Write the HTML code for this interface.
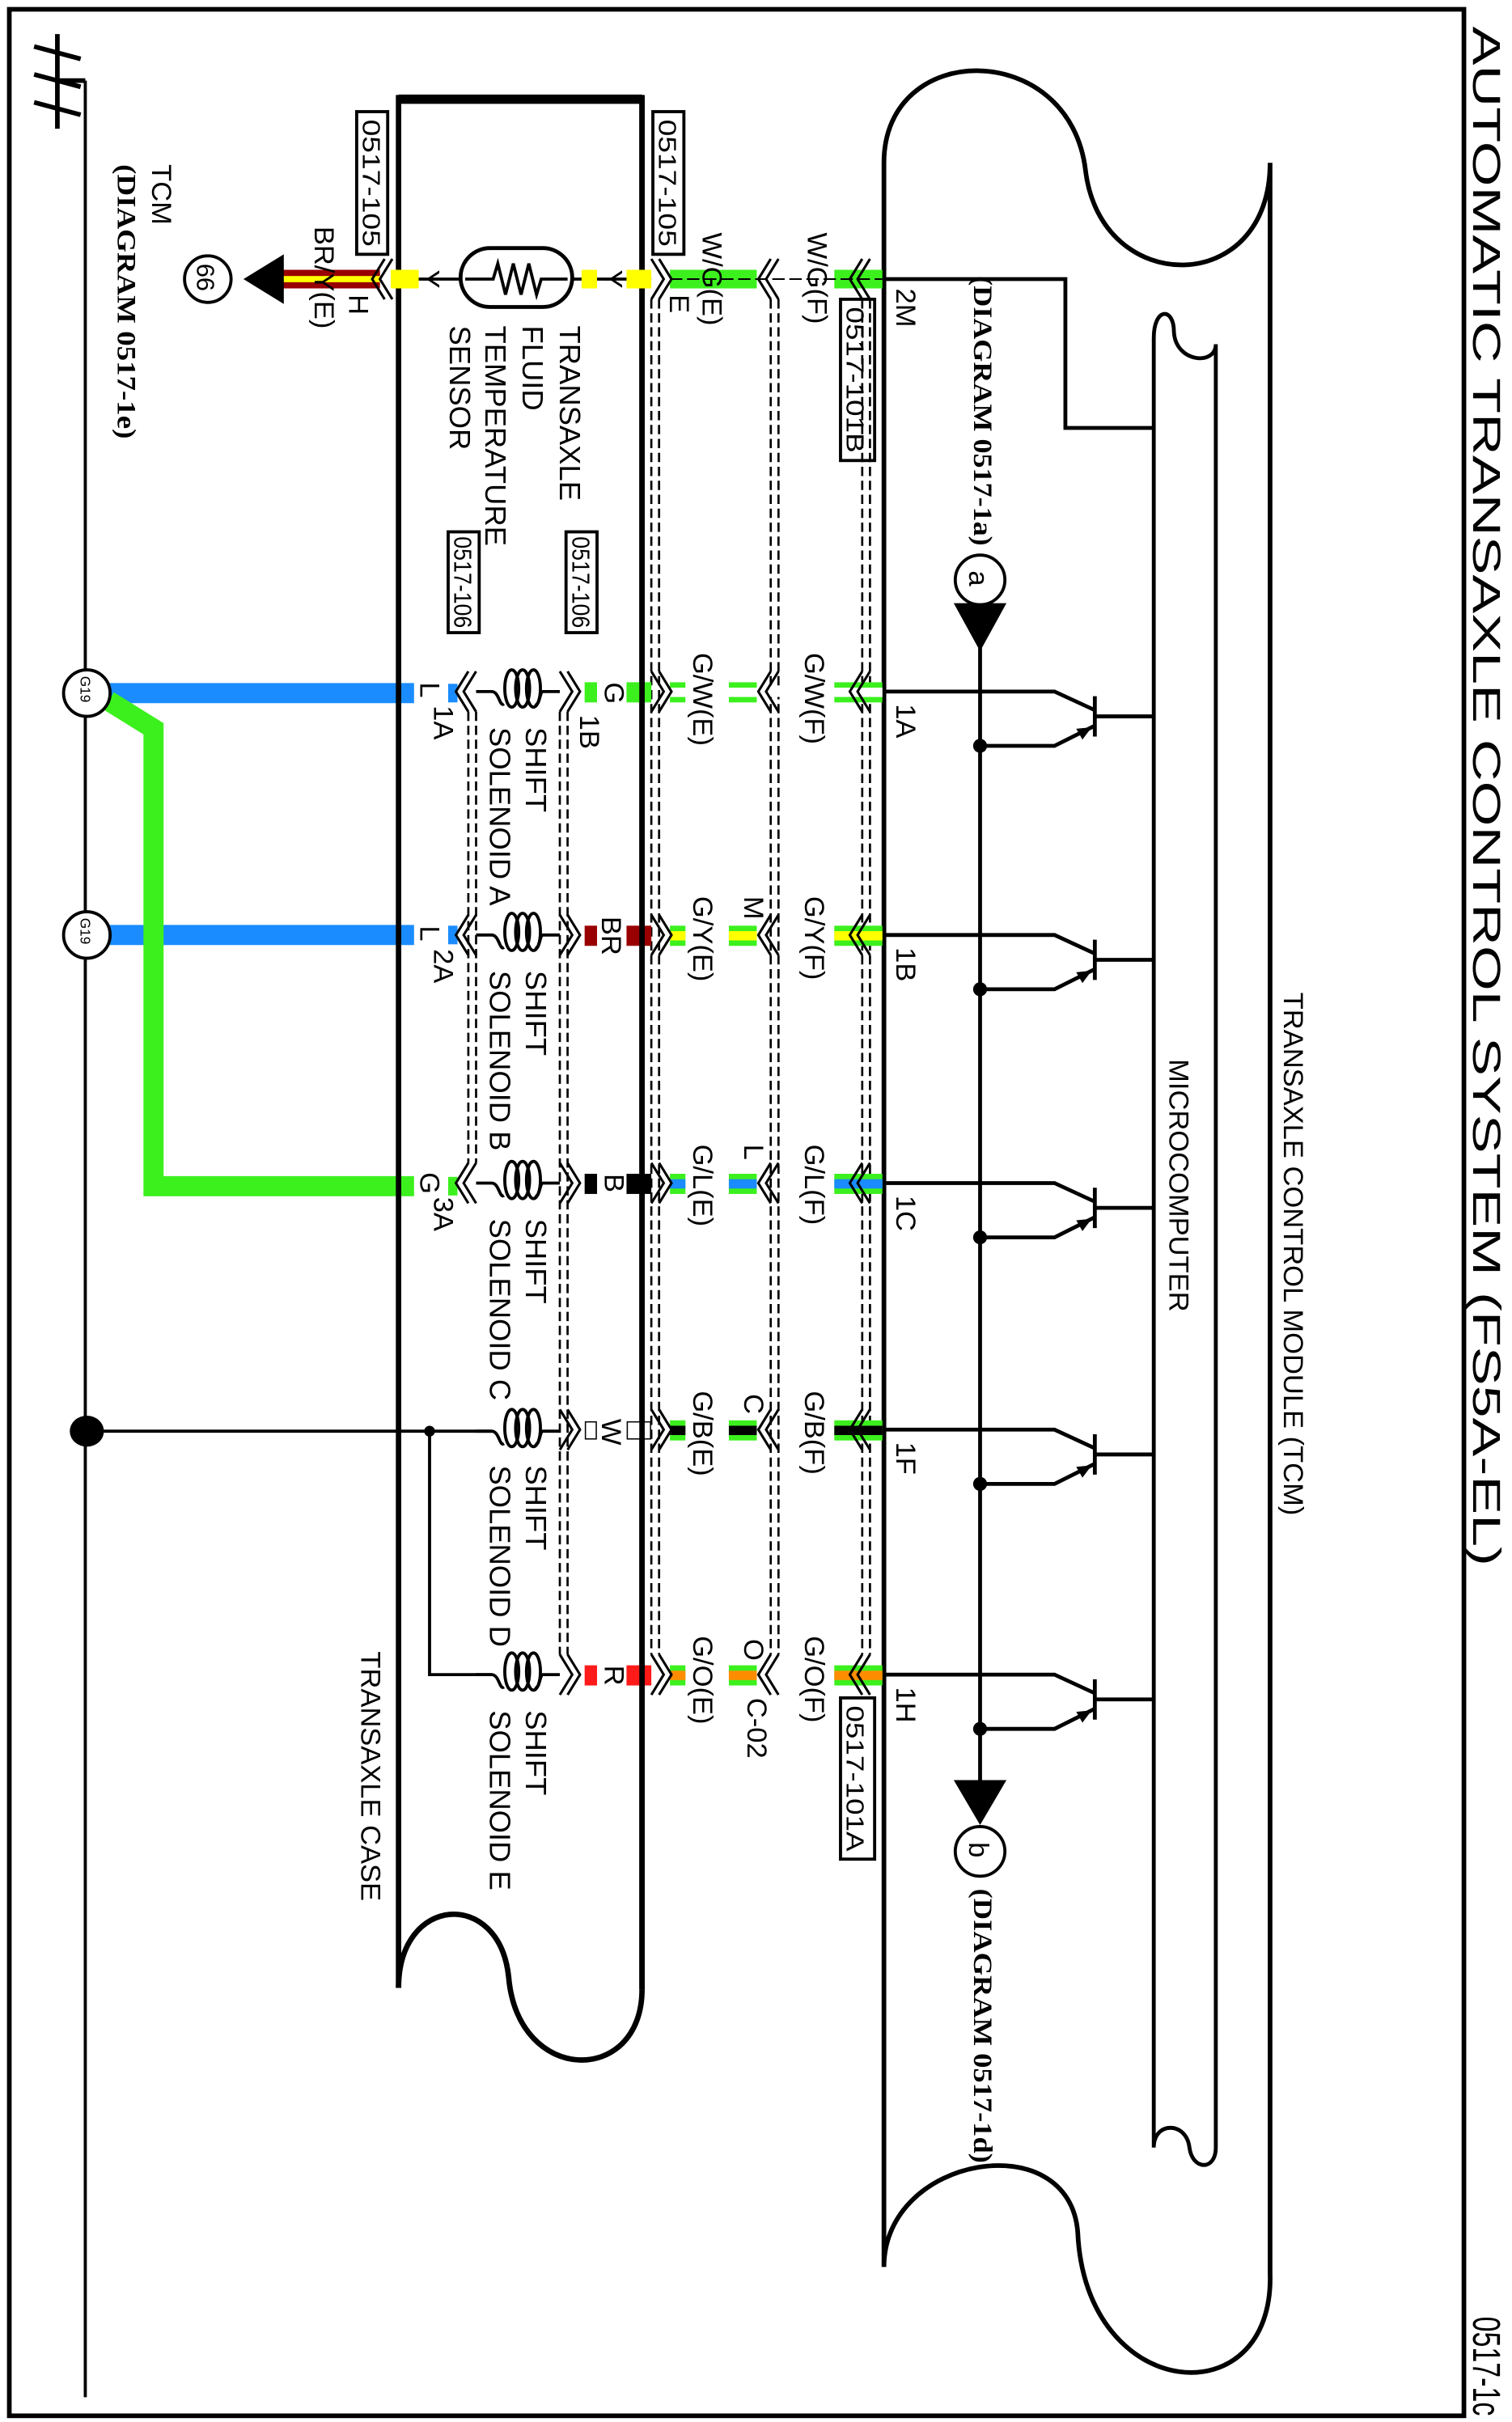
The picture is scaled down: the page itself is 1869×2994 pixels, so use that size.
<!DOCTYPE html>
<html><head><meta charset="utf-8"><style>html,body{margin:0;padding:0;background:#fff}svg{display:block}text{font-family:"Liberation Sans",sans-serif;fill:#000}.s{font-family:"Liberation Serif",serif;font-weight:bold}</style></head>
<body>
<svg width="1869" height="2994" viewBox="0 0 975 1562" preserveAspectRatio="none" xmlns="http://www.w3.org/2000/svg">
<rect x="6" y="6" width="938" height="1552" fill="none" stroke="#000" stroke-width="3"/>
<line x1="55" y1="52" x2="55" y2="1546" stroke="#000" stroke-width="2"/>
<path d="M37,22 V83 M37,52 H55 M22,30 L52,38 M22,48 L52,56 M22,66 L52,74" stroke="#000" stroke-width="3" fill="none"/>
<line x1="70" y1="447" x2="267" y2="447" stroke="#1a8cff" stroke-width="13"/>
<line x1="70" y1="603" x2="267" y2="603" stroke="#1a8cff" stroke-width="13"/>
<path d="M70,452 L99,470 V765 H267" stroke="#3cf01e" stroke-width="13" fill="none"/>
<circle cx="56" cy="447" r="15" fill="#fff" stroke="#000" stroke-width="2"/>
<circle cx="56" cy="603" r="15" fill="#fff" stroke="#000" stroke-width="2"/>
<text transform="translate(52,436) rotate(90)" font-size="9">G19</text>
<text transform="translate(52,592) rotate(90)" font-size="9">G19</text>
<ellipse cx="56" cy="923" rx="11" ry="10"/>
<path d="M56,923 H317 M277,923 V1080 H317" stroke="#000" stroke-width="2" fill="none"/>
<circle cx="277" cy="923" r="3.5"/>
<path d="M257,1282 V63 H414 V1283" stroke="#000" stroke-width="3.5" fill="none"/>
<line x1="257" y1="64" x2="414" y2="64" stroke="#000" stroke-width="6"/>
<path d="M257,1282 C257,1222 322,1218 328,1275 C334,1345 414,1345 414,1283" stroke="#000" stroke-width="3.5" fill="none"/>
<path d="M570,1462 V105 C570,25 690,25 700,110 C710,192 819,192 819,105 V1466 C822,1560 700,1550 695,1440 C690,1370 570,1390 570,1462" stroke="#000" stroke-width="3" fill="none"/>
<path d="M744,1385 V218 C744,198 757,198 757,214 C758,234 784,236 784,222 V1385 C784,1400 769,1400 767,1385 C765,1368 744,1368 744,1385" stroke="#000" stroke-width="2.5" fill="none"/>
<path d="M570,180 H687 V276 H744" stroke="#000" stroke-width="2.5" fill="none"/>
<line x1="632" y1="400" x2="632" y2="1160" stroke="#000" stroke-width="2.5"/>
<polygon points="615,389 649,389 632,420"/>
<circle cx="632" cy="374" r="16" fill="#fff" stroke="#000" stroke-width="2"/>
<text transform="translate(625,368) rotate(90)" font-size="18">a</text>
<polygon points="615,1148 649,1148 632,1177"/>
<circle cx="632" cy="1194" r="16" fill="#fff" stroke="#000" stroke-width="2"/>
<text transform="translate(625,1188) rotate(90)" font-size="18">b</text>
<g stroke="#000" stroke-width="2.5" fill="none">
<path d="M570,446 H680 L706,458 M706,449 V475 M706,462 H744 M706,468 L680,481 H632"/>
<path d="M570,603 H680 L706,615 M706,606 V632 M706,619 H744 M706,625 L680,638 H632"/>
<path d="M570,763 H680 L706,775 M706,766 V792 M706,779 H744 M706,785 L680,798 H632"/>
<path d="M570,922 H680 L706,934 M706,925 V951 M706,938 H744 M706,944 L680,957 H632"/>
<path d="M570,1080 H680 L706,1092 M706,1083 V1109 M706,1096 H744 M706,1102 L680,1115 H632"/>
</g>
<g>
<polygon points="704,469 694,470 698,477"/><circle cx="632" cy="481" r="4.5"/>
<polygon points="704,626 694,627 698,634"/><circle cx="632" cy="638" r="4.5"/>
<polygon points="704,786 694,787 698,794"/><circle cx="632" cy="798" r="4.5"/>
<polygon points="704,945 694,946 698,953"/><circle cx="632" cy="957" r="4.5"/>
<polygon points="704,1103 694,1104 698,1111"/><circle cx="632" cy="1115" r="4.5"/>
</g>
<g stroke="#000" stroke-width="1.4" stroke-dasharray="6,3" fill="none">
<path d="M556,193 V1067 M561,193 V1067"/>
<path d="M497,193 V1067 M502,193 V1067"/>
<path d="M420,193 V1067 M425,193 V1067"/>
<path d="M361,459 V1067 M366,459 V1067"/>
<path d="M302,459 V750 M307,459 V750"/>
</g>
<g>
<rect x="432" y="174" width="56" height="12" fill="#3cf01e"/><rect x="538" y="174" width="31" height="12" fill="#3cf01e"/>
<line x1="432" y1="180" x2="569" y2="180" stroke="#000" stroke-width="1" stroke-dasharray="8,3"/>
<rect x="181" y="174" width="64" height="12" fill="#990000"/><rect x="181" y="178" width="64" height="4" fill="#ffff00"/>
<rect x="432" y="440" width="10" height="13" fill="#3cf01e"/><rect x="470" y="440" width="18" height="13" fill="#3cf01e"/><rect x="538" y="440" width="31" height="13" fill="#3cf01e"/>
<rect x="432" y="443.5" width="137" height="6" fill="#fff"/>
<rect x="432" y="597" width="10" height="13" fill="#3cf01e"/><rect x="470" y="597" width="18" height="13" fill="#3cf01e"/><rect x="538" y="597" width="31" height="13" fill="#3cf01e"/>
<rect x="432" y="600.5" width="10" height="6" fill="#ffff00"/><rect x="470" y="600.5" width="18" height="6" fill="#ffff00"/><rect x="538" y="600.5" width="31" height="6" fill="#ffff00"/>
<rect x="432" y="757" width="10" height="13" fill="#3cf01e"/><rect x="470" y="757" width="18" height="13" fill="#3cf01e"/><rect x="538" y="757" width="31" height="13" fill="#3cf01e"/>
<rect x="432" y="760.5" width="10" height="6" fill="#1a8cff"/><rect x="470" y="760.5" width="18" height="6" fill="#1a8cff"/><rect x="538" y="760.5" width="31" height="6" fill="#1a8cff"/>
<rect x="432" y="916" width="10" height="13" fill="#3cf01e"/><rect x="470" y="916" width="18" height="13" fill="#3cf01e"/><rect x="538" y="916" width="31" height="13" fill="#3cf01e"/>
<rect x="432" y="919.5" width="10" height="6" fill="#000"/><rect x="470" y="919.5" width="18" height="6" fill="#000"/><rect x="538" y="919.5" width="31" height="6" fill="#000"/>
<rect x="432" y="1074" width="10" height="13" fill="#3cf01e"/><rect x="470" y="1074" width="18" height="13" fill="#3cf01e"/><rect x="538" y="1074" width="31" height="13" fill="#3cf01e"/>
<rect x="432" y="1077.5" width="10" height="6" fill="#ff8c00"/><rect x="470" y="1077.5" width="18" height="6" fill="#ff8c00"/><rect x="538" y="1077.5" width="31" height="6" fill="#ff8c00"/>
<rect x="377" y="440" width="8" height="13" fill="#3cf01e"/><rect x="404" y="440" width="16" height="13" fill="#3cf01e"/>
<rect x="377" y="597" width="8" height="13" fill="#990000"/><rect x="404" y="597" width="16" height="13" fill="#990000"/>
<rect x="377" y="757" width="8" height="13" fill="#000"/><rect x="404" y="757" width="16" height="13" fill="#000"/>
<rect x="377.5" y="917" width="7" height="11" fill="#fff" stroke="#000" stroke-width="0.8"/><rect x="404.5" y="917" width="15" height="11" fill="#fff" stroke="#000" stroke-width="0.8"/>
<rect x="377" y="1074" width="8" height="13" fill="#ff1a1a"/><rect x="404" y="1074" width="16" height="13" fill="#ff1a1a"/>
<rect x="289" y="441" width="6" height="12" fill="#1a8cff"/>
<rect x="289" y="597" width="6" height="12" fill="#1a8cff"/>
<rect x="289" y="759" width="6" height="12" fill="#3cf01e"/>
</g>
<line x1="414" y1="63" x2="414" y2="1283" stroke="#000" stroke-width="3.5"/>
<g stroke="#000" stroke-width="1.6" fill="none">
<path id="cl" d="M556,-13 L548,0 L556,13 M561,-13 L553,0 L561,13" transform="translate(0,180)"/>
<use href="#cl" y="266"/><use href="#cl" y="423"/><use href="#cl" y="583"/><use href="#cl" y="742"/><use href="#cl" y="900"/>
<path id="cm" d="M497,-13 L489,0 L497,13 M502,-13 L494,0 L502,13" transform="translate(0,180)"/>
<use href="#cm" y="266"/><use href="#cm" y="423"/><use href="#cm" y="583"/><use href="#cm" y="742"/><use href="#cm" y="900"/>
<path id="ce" d="M420,-13 L428,0 L420,13 M425,-13 L433,0 L425,13" transform="translate(0,180)"/>
<use href="#ce" y="266"/><use href="#ce" y="423"/><use href="#ce" y="583"/><use href="#ce" y="742"/><use href="#ce" y="900"/>
<path id="cr" d="M361,-13 L369,0 L361,13 M366,-13 L374,0 L366,13" transform="translate(0,446)"/>
<use href="#cr" y="157"/><use href="#cr" y="317"/><use href="#cr" y="476"/><use href="#cr" y="634"/>
<path id="cL" d="M302,-13 L294,0 L302,13 M307,-13 L299,0 L307,13" transform="translate(0,446)"/>
<use href="#cL" y="157"/><use href="#cL" y="317"/>
<path d="M248,167 L240,180 L248,193 M253,167 L245,180 L253,193"/>
</g>
<g stroke="#000" stroke-width="2" fill="none">
<path id="sol" d="M307,0 H317 C322,0 322,10 325,8 M350,0 H361 M345,8 C348,10 348,0 350,0" transform="translate(0,446)"/>
<g id="loops" transform="translate(0,446)"><ellipse cx="330" cy="-2" rx="4.5" ry="12"/><ellipse cx="337" cy="-2" rx="4.5" ry="12"/><ellipse cx="344" cy="-2" rx="4.5" ry="12"/></g>
<use href="#sol" y="157"/><use href="#loops" y="157"/>
<use href="#sol" y="317"/><use href="#loops" y="317"/>
<use href="#sol" y="477"/><use href="#loops" y="477"/>
<use href="#sol" y="634"/><use href="#loops" y="634"/>
</g>
<rect x="297" y="160" width="72" height="38" rx="19" fill="#fff" stroke="#000" stroke-width="2.5"/>
<path d="M253,180 H297 M369,180 H420 M300,180 H318 L321,170 L326,190 L331,170 L336,190 L341,170 L346,190 L349,180 H366" stroke="#000" stroke-width="2" fill="none"/>
<rect x="252" y="174" width="18" height="12" fill="#ffff00"/><rect x="375" y="174" width="10" height="12" fill="#ffff00"/><rect x="404" y="174" width="16" height="12" fill="#ffff00"/>
<polygon points="157,180 183,164 183,196"/>
<circle cx="134" cy="180" r="15" fill="#fff" stroke="#000" stroke-width="2"/>
<text transform="translate(127,170) rotate(90)" font-size="16">66</text>
<g fill="none" stroke="#000" stroke-width="2">
<rect x="230" y="72" width="20" height="92"/><rect x="421" y="72" width="20" height="92"/>
<rect x="289" y="343" width="20" height="65"/><rect x="365" y="343" width="20" height="65"/>
<rect x="542" y="193" width="22" height="104"/><rect x="542" y="1095" width="22" height="104"/>
</g>
<g font-size="16">
<text transform="translate(234,77) rotate(90)" textLength="82" lengthAdjust="spacingAndGlyphs">0517-105</text>
<text transform="translate(425,77) rotate(90)" textLength="82" lengthAdjust="spacingAndGlyphs">0517-105</text>
<text transform="translate(293,346) rotate(90)" textLength="59" lengthAdjust="spacingAndGlyphs">0517-106</text>
<text transform="translate(369,346) rotate(90)" textLength="59" lengthAdjust="spacingAndGlyphs">0517-106</text>
<text transform="translate(546,198) rotate(90)" textLength="94" lengthAdjust="spacingAndGlyphs">0517-101B</text>
<text transform="translate(546,1100) rotate(90)" textLength="94" lengthAdjust="spacingAndGlyphs">0517-101A</text>
</g>
<text transform="translate(950,17) rotate(90)" font-size="25" textLength="993" lengthAdjust="spacingAndGlyphs">AUTOMATIC TRANSAXLE CONTROL SYSTEM (FS5A-EL)</text>
<text transform="translate(950,1494) rotate(90)" font-size="25" textLength="64" lengthAdjust="spacingAndGlyphs">0517-1c</text>
<text transform="translate(828,640) rotate(90)" font-size="18">TRANSAXLE CONTROL MODULE (TCM)</text>
<text transform="translate(754,683) rotate(90)" font-size="18">MICROCOMPUTER</text>
<text class="s" transform="translate(628,178) rotate(90)" font-size="17" textLength="174" lengthAdjust="spacingAndGlyphs">(DIAGRAM 0517-1a)</text>
<text class="s" transform="translate(628,1218) rotate(90)" font-size="17" textLength="177" lengthAdjust="spacingAndGlyphs">(DIAGRAM 0517-1d)</text>
<text transform="translate(98,106) rotate(90)" font-size="18">TCM</text>
<text class="s" transform="translate(76,106) rotate(90)" font-size="17" textLength="177" lengthAdjust="spacingAndGlyphs">(DIAGRAM 0517-1e)</text>
<text transform="translate(233,1065) rotate(90)" font-size="18">TRANSAXLE CASE</text>
<g font-size="19">
<text transform="translate(361,210) rotate(90)">TRANSAXLE</text>
<text transform="translate(337,210) rotate(90)">FLUID</text>
<text transform="translate(313,210) rotate(90)">TEMPERATURE</text>
<text transform="translate(290,210) rotate(90)">SENSOR</text>
</g>
<g font-size="19">
<text transform="translate(339,469) rotate(90)">SHIFT</text><text transform="translate(316,469) rotate(90)">SOLENOID A</text>
<text transform="translate(339,626) rotate(90)">SHIFT</text><text transform="translate(316,626) rotate(90)">SOLENOID B</text>
<text transform="translate(339,786) rotate(90)">SHIFT</text><text transform="translate(316,786) rotate(90)">SOLENOID C</text>
<text transform="translate(339,945) rotate(90)">SHIFT</text><text transform="translate(316,945) rotate(90)">SOLENOID D</text>
<text transform="translate(339,1103) rotate(90)">SHIFT</text><text transform="translate(316,1103) rotate(90)">SOLENOID E</text>
</g>
<g font-size="18">
<text transform="translate(203,146) rotate(90)">BR/Y(E)</text>
<text transform="translate(225,190) rotate(90)">H</text>
<text transform="translate(271,174) rotate(90)">Y</text>
<text transform="translate(389,174) rotate(90)">Y</text>
<text transform="translate(432,190) rotate(90)">E</text>
<text transform="translate(453,150) rotate(90)">W/G(E)</text>
<text transform="translate(521,150) rotate(90)">W/G(F)</text>
<text transform="translate(578,186) rotate(90)">2M</text>
<text transform="translate(447,421) rotate(90)">G/W(E)</text>
<text transform="translate(519,421) rotate(90)">G/W(F)</text>
<text transform="translate(578,454) rotate(90)">1A</text>
<text transform="translate(390,440) rotate(90)">G</text>
<text transform="translate(374,461) rotate(90)">1B</text>
<text transform="translate(271,440) rotate(90)">L</text>
<text transform="translate(280,455) rotate(90)">1A</text>
<text transform="translate(447,578) rotate(90)">G/Y(E)</text>
<text transform="translate(519,578) rotate(90)">G/Y(F)</text>
<text transform="translate(480,578) rotate(90)">M</text>
<text transform="translate(578,611) rotate(90)">1B</text>
<text transform="translate(388,591) rotate(90)">BR</text>
<text transform="translate(271,597) rotate(90)">L</text>
<text transform="translate(280,612) rotate(90)">2A</text>
<text transform="translate(447,738) rotate(90)">G/L(E)</text>
<text transform="translate(519,738) rotate(90)">G/L(F)</text>
<text transform="translate(480,738) rotate(90)">L</text>
<text transform="translate(578,771) rotate(90)">1C</text>
<text transform="translate(390,757) rotate(90)">B</text>
<text transform="translate(271,756) rotate(90)">G</text>
<text transform="translate(280,772) rotate(90)">3A</text>
<text transform="translate(447,897) rotate(90)">G/B(E)</text>
<text transform="translate(519,897) rotate(90)">G/B(F)</text>
<text transform="translate(480,899) rotate(90)">C</text>
<text transform="translate(578,930) rotate(90)">1F</text>
<text transform="translate(388,915) rotate(90)">W</text>
<text transform="translate(447,1055) rotate(90)">G/O(E)</text>
<text transform="translate(519,1055) rotate(90)">G/O(F)</text>
<text transform="translate(480,1057) rotate(90)">O</text>
<text transform="translate(482,1095) rotate(90)">C-02</text>
<text transform="translate(578,1088) rotate(90)">1H</text>
<text transform="translate(390,1074) rotate(90)">R</text>
</g>
</svg>
</body></html>
